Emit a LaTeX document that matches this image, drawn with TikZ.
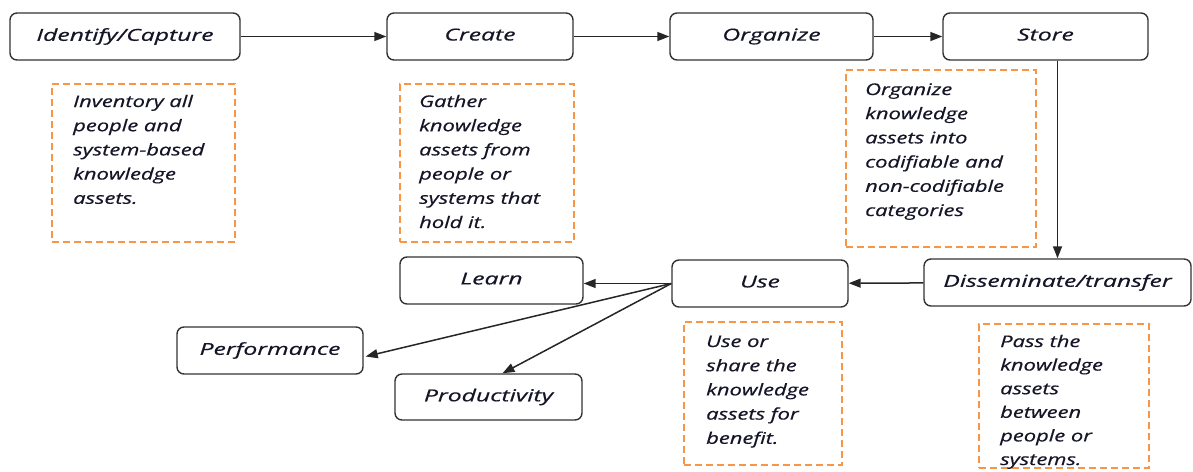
\documentclass[tikz,border=0pt]{standalone}
\usepackage{fontspec}
\newfontfamily\lfont{Open Sans}[FakeStretch=1.5,FakeBold=0.6]
\newfontfamily\nfont{Open Sans}[FakeStretch=1.37,FakeBold=0.6]
\usetikzlibrary{arrows.meta,calc}
\definecolor{nor}{HTML}{F79646}
\definecolor{bdr}{HTML}{333333}
\definecolor{txt}{HTML}{151528}
\tikzset{
 box/.style={draw=bdr, line width=1.4pt, rounded corners=7pt, text=txt, font=\lfont\itshape\fontsize{16.5}{24}\selectfont, inner sep=0pt, minimum height=47pt},
 note/.style={draw=nor, line width=1.4pt, dash pattern=on 7pt off 4pt, inner sep=0pt},
 ntext/.style={anchor=base west, inner sep=0pt, text=txt, font=\nfont\itshape\fontsize{16}{24.2}\selectfont},
 arr/.style={-{Triangle[length=12pt,width=9pt]}, line width=1.5pt, black!85},
}
\newcommand{\lines}[1]{\begin{tabular}[t]{@{}l@{}}#1\end{tabular}}
\begin{document}
\begin{tikzpicture}[x=1pt,y=-1pt]
\useasboundingbox (0,0) rectangle (1193,471);
% process boxes
\node[box, minimum width=230pt] (idc) at (125,36.5) {\raisebox{4pt}{Identify/Capture}};
\node[box, minimum width=186pt] (create) at (480,36.5) {\raisebox{4pt}{Create}};
\node[box, minimum width=203pt] (org) at (771.5,36.5) {\raisebox{4pt}{Organize}};
\node[box, minimum width=205pt] (store) at (1045.5,36.5) {\raisebox{4pt}{Store}};
\node[box, minimum width=267pt] (dis) at (1057.5,282.5) {\raisebox{4pt}{Disseminate/transfer}};
\node[box, minimum width=176pt] (use) at (760,283.5) {\raisebox{4pt}{Use}};
\node[box, minimum width=183pt] (learn) at (491.5,280.5) {\raisebox{4pt}{Learn}};
\node[box, minimum width=186pt] (perf) at (270,350.5) {\raisebox{3pt}{Performance}};
\node[box, minimum width=187pt, minimum height=46pt] (prod) at (488.5,397) {\raisebox{3pt}{Productivity}};
% notes
\node[note, minimum width=183pt, minimum height=158pt] (n1) at (143.5,163) {};
\node[ntext] (t1) at (73,107) {\lines{Inventory all\\people and\\system-based\\knowledge\\assets.}};
\node[note, minimum width=174pt, minimum height=158pt] (n2) at (487,163) {};
\node[ntext] (t2) at (419,107) {\lines{Gather\\knowledge\\assets from\\people or\\systems that\\hold it.}};
\node[note, minimum width=190pt, minimum height=177pt] (n3) at (941,158.5) {};
\node[ntext] (t3) at (865,95) {\lines{Organize\\knowledge\\assets into\\codifiable and\\non-codifiable\\categories}};
\node[note, minimum width=158pt, minimum height=143pt] (n4) at (763,393.5) {};
\node[ntext] (t4) at (706,347) {\lines{Use or\\share the\\knowledge\\assets for\\benefit.}};
\node[note, minimum width=170pt, minimum height=144pt] (n5) at (1064,396) {};
\node[ntext, font=\nfont\itshape\fontsize{16}{23.6}\selectfont] (t5) at (1000,347) {\lines{Pass the\\knowledge\\assets\\between\\people or\\systems.}};
% connectors
\draw[arr] (idc) -- (create);
\draw[arr] (create) -- (org);
\draw[arr] (org) -- (store);
\draw[arr] (dis.north |- store.south) -- (dis.north);
\draw[arr] (dis) -- (use);
\draw[arr] (use.west) -- (use.west -| learn.east);
\draw[arr] (use.west) -- ($(perf.east)+(2,6)$);
\draw[arr] (use.west) -- ($(prod.north)+(14,0)$);
\end{tikzpicture}
\end{document}
